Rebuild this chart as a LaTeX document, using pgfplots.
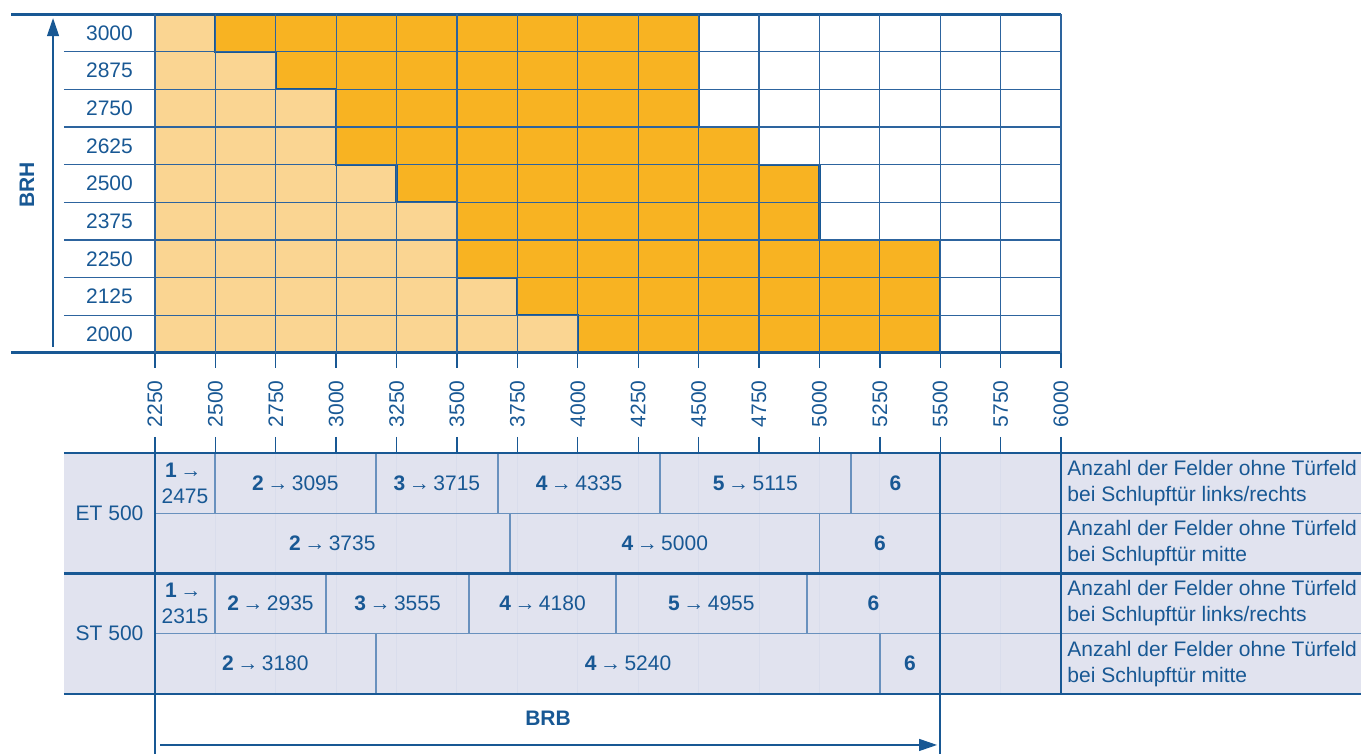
\documentclass[border=0pt]{standalone}
\usepackage{pgfplots}
\pgfplotsset{compat=1.18}
\usetikzlibrary{arrows.meta}
\usepackage{fontspec}
\setmainfont{Liberation Sans}
\definecolor{tblue}{RGB}{24,88,148}
\definecolor{gblue}{RGB}{45,100,158}
\definecolor{lblue}{RGB}{105,145,190}
\definecolor{lightor}{RGB}{250,213,146}
\definecolor{darkor}{RGB}{248,179,34}
\definecolor{lav}{RGB}{225,227,239}
\definecolor{faint}{RGB}{217,221,236}
\newcommand{\ar}{\,→\,}
\begin{document}
\begin{tikzpicture}[font=\fontsize{10.5}{13}\selectfont, text=tblue]
\begin{axis}[
  name=main, at={(0,0)}, anchor=south west,
  scale only axis, width=453pt, height=169.5pt,
  xmin=2250, xmax=6000, ymin=0, ymax=9,
  clip=false, axis on top,
  axis line style={draw=none},
  xtick={2250,2500,...,6000},
  xticklabels={2250,2500,2750,3000,3250,3500,3750,4000,4250,4500,4750,5000,5250,5500,5750,6000},
  xtick pos=left, tick align=outside, major tick length=7.5pt,
  xtick style={draw=tblue, line width=0.7pt},
  xmajorgrids, major grid style={gblue, line width=0.6pt},
  ytick={0.5,1.5,...,8.5},
  yticklabels={2000,2125,2250,2375,2500,2625,2750,2875,3000},
  ytick style={draw=none},
  minor ytick={1,...,8}, yminorgrids, minor grid style={gblue, line width=0.6pt},
  minor tick length=0pt,
  every tick label/.append style={font=\fontsize{10.5}{12}\selectfont, text=tblue},
  xticklabel style={rotate=90, anchor=east, inner sep=0pt},
  xticklabel shift=6pt,
  yticklabel style={anchor=center, xshift=-15.25pt},
]
% light region
\addplot[fill=lightor, draw=none] coordinates {
 (2250,0)(4000,0)(4000,1)(3750,1)(3750,2)(3500,2)(3500,4)(3250,4)(3250,5)
 (3000,5)(3000,7)(2750,7)(2750,8)(2500,8)(2500,9)(2250,9)} -- cycle;
% dark region
\addplot[fill=darkor, draw=tblue, line width=1.1pt] coordinates {
 (4000,0)(5500,0)(5500,3)(5000,3)(5000,5)(4750,5)(4750,6)(4500,6)(4500,9)
 (2500,9)(2500,8)(2750,8)(2750,7)(3000,7)(3000,5)(3250,5)(3250,4)(3500,4)
 (3500,2)(3750,2)(3750,1)(4000,1)} -- cycle;
% frame
\draw[tblue, line width=1.5pt] (axis cs:1654,9) -- (axis cs:6000,9);
\draw[tblue, line width=1.5pt] (axis cs:1654,0) -- (axis cs:6000,0);
\draw[tblue, line width=1pt] (axis cs:2250,0) -- (axis cs:2250,9);
\draw[tblue, line width=1pt] (axis cs:6000,0) -- (axis cs:6000,9);
\pgfplotsinvokeforeach{1,...,8}{\draw[gblue, line width=0.6pt] (axis cs:1873,#1) -- (axis cs:2250,#1);}
\draw[tblue, line width=0.6pt, -{Triangle[width=6pt,length=9pt]}] (axis cs:1828,0.16) -- (axis cs:1828,8.89);
\node[rotate=90, font=\fontsize{10.5}{12}\selectfont\bfseries] at (axis cs:1720,4.46) {BRH};
\end{axis}

\begin{axis}[
  name=tab, at={(0,-50pt)}, anchor=north west,
  scale only axis, width=453pt, height=150.5pt,
  xmin=2250, xmax=6000, ymin=0, ymax=5,
  clip=false, axis line style={draw=none},
  xtick={2250,2500,...,6000}, xticklabels={},
  xtick pos=right, tick align=outside, major tick length=8pt,
  xtick style={draw=tblue, line width=0.7pt},
  ytick=\empty,
]
\fill[lav] (axis cs:1873,1) rectangle (axis cs:7242,5);
\pgfplotsinvokeforeach{2500,2750,...,5750}{\draw[faint, line width=0.5pt] (axis cs:#1,1) -- (axis cs:#1,5);}
% thin cell borders
\draw[lblue, line width=0.6pt] (axis cs:2250,4) -- (axis cs:7242,4);
\draw[lblue, line width=0.6pt] (axis cs:2250,2) -- (axis cs:7242,2);
\pgfplotsinvokeforeach{2498,3165,3670,4340,5131}{\draw[lblue, line width=0.6pt] (axis cs:#1,4) -- (axis cs:#1,5);}
\pgfplotsinvokeforeach{3719,5002}{\draw[lblue, line width=0.6pt] (axis cs:#1,3) -- (axis cs:#1,4);}
\pgfplotsinvokeforeach{2498,2958,3550,4158,4949}{\draw[lblue, line width=0.6pt] (axis cs:#1,2) -- (axis cs:#1,3);}
\pgfplotsinvokeforeach{3165,5251}{\draw[lblue, line width=0.6pt] (axis cs:#1,1) -- (axis cs:#1,2);}
% thick borders
\draw[tblue, line width=1.2pt] (axis cs:1873,5) -- (axis cs:7242,5);
\draw[tblue, line width=1.2pt] (axis cs:1873,3) -- (axis cs:7242,3);
\draw[tblue, line width=1.2pt] (axis cs:1873,1) -- (axis cs:7242,1);
\draw[tblue, line width=1pt] (axis cs:2250,0) -- (axis cs:2250,5);
\draw[tblue, line width=1pt] (axis cs:5500,0) -- (axis cs:5500,5);
\draw[tblue, line width=1pt] (axis cs:6000,1) -- (axis cs:6000,5);
% texts
\node at (axis cs:2062,4) {ET 500};
\node at (axis cs:2062,2) {ST 500};
\node[align=center] at (axis cs:2374,4.5) {\textbf{1}\ar\\2475};
\node at (axis cs:2831,4.5) {\textbf{2}\ar 3095};
\node at (axis cs:3417,4.5) {\textbf{3}\ar 3715};
\node at (axis cs:4005,4.5) {\textbf{4}\ar 4335};
\node at (axis cs:4735,4.5) {\textbf{5}\ar 5115};
\node at (axis cs:5315,4.5) {\textbf{6}};
\node at (axis cs:2984,3.5) {\textbf{2}\ar 3735};
\node at (axis cs:4360,3.5) {\textbf{4}\ar 5000};
\node at (axis cs:5251,3.5) {\textbf{6}};
\node[align=center] at (axis cs:2374,2.5) {\textbf{1}\ar\\2315};
\node at (axis cs:2728,2.5) {\textbf{2}\ar 2935};
\node at (axis cs:3254,2.5) {\textbf{3}\ar 3555};
\node at (axis cs:3854,2.5) {\textbf{4}\ar 4180};
\node at (axis cs:4553,2.5) {\textbf{5}\ar 4955};
\node at (axis cs:5224,2.5) {\textbf{6}};
\node at (axis cs:2707,1.5) {\textbf{2}\ar 3180};
\node at (axis cs:4208,1.5) {\textbf{4}\ar 5240};
\node at (axis cs:5375,1.5) {\textbf{6}};
\node[anchor=west, align=left, inner sep=0pt] at (axis cs:6025,4.5) {Anzahl der Felder ohne Türfeld\\bei Schlupftür links/rechts};
\node[anchor=west, align=left, inner sep=0pt] at (axis cs:6025,3.5) {Anzahl der Felder ohne Türfeld\\bei Schlupftür mitte};
\node[anchor=west, align=left, inner sep=0pt] at (axis cs:6025,2.5) {Anzahl der Felder ohne Türfeld\\bei Schlupftür links/rechts};
\node[anchor=west, align=left, inner sep=0pt] at (axis cs:6025,1.5) {Anzahl der Felder ohne Türfeld\\bei Schlupftür mitte};
\node[font=\fontsize{10.5}{12}\selectfont\bfseries] at (axis cs:3877,0.6) {BRB};
\draw[tblue, line width=0.6pt, -{Triangle[width=6pt,length=9pt]}] (axis cs:2271,0.15) -- (axis cs:5487,0.15);
\end{axis}
\pgfresetboundingbox
\path[use as bounding box] (-77.5pt,-200.5pt) rectangle (603pt,176.5pt);
\end{tikzpicture}
\end{document}
